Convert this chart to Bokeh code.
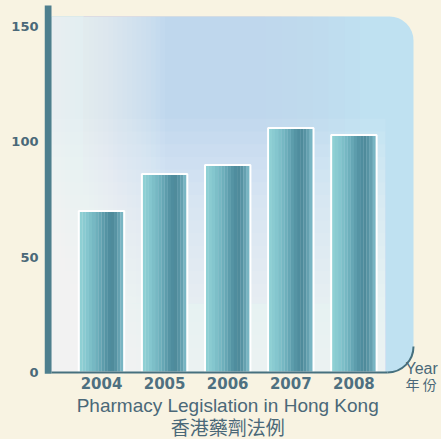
import numpy as np
from bokeh.plotting import figure
from bokeh.models import Range1d, BoxAnnotation, Label, FixedTicker, GlobalInlineStyleSheet
from bokeh.embed import file_html
from bokeh.resources import INLINE

# ---- data ----
years = [2004, 2005, 2006, 2007, 2008]
year_labels = ["2004", "2005", "2006", "2007", "2008"]
counts = [70, 86, 90, 106, 103]
y_ticks = [0, 50, 100, 150]
title_en = "Pharmacy Legislation in Hong Kong"
title_zh = "香港藥劑法例"
axis_en = "Year"
axis_zh = "年 份"

CREAM = "#f8f3e2"
TXT = "#4a6878"

W, H = 441, 439
FL = 44            # frame left (px)
SX = 63.1          # px per year
SY = 2.3067        # px per unit
BASE = 372         # baseline (px from top)
X0 = 2004 - (101 - FL) / SX
X1 = 2004 + (W - 101) / SX
Y0 = -(H - BASE) / SY
Y1 = BASE / SY
PR = 2004 + (413 - 101) / SX      # panel right edge
PL = X0 + 7 / SX                  # panel left edge (right side of axis bar)
PT = (BASE - 16) / SY             # panel top

p = figure(width=W, height=H, output_backend="svg", toolbar_location=None,
           x_range=Range1d(X0, X1), y_range=Range1d(Y0, Y1),
           min_border_left=FL, min_border_right=0, min_border_top=0, min_border_bottom=0)
p.stylesheets = [GlobalInlineStyleSheet(css="body{background-color:%s;}" % CREAM)]
p.background_fill_color = CREAM
p.border_fill_color = CREAM
p.outline_line_color = None
p.grid.visible = False

# ---- panel background (rounded) ----
p.add_layout(BoxAnnotation(left=PL, right=PR, bottom=0, top=PT, level="underlay",
                           fill_color="#bfe1f1", fill_alpha=1, line_color=None,
                           border_radius=dict(top_left=0, top_right=24, bottom_right=26, bottom_left=0)))
# lavender tint fading to the right (upper part)
for k in range(7):
    p.add_layout(BoxAnnotation(left=PL + 0.5, right=2006.6 + k * 0.25, bottom=30, top=PT, level="underlay",
                               fill_color="#cbc6f2", fill_alpha=0.055, line_color=None))
# whiter towards the left
for k in range(1, 25):
    p.add_layout(BoxAnnotation(left=PL, right=PL + k * 0.075, bottom=0, top=PT, level="underlay",
                               fill_color="white", fill_alpha=0.055, line_color=None))
# whiter towards the bottom
for k in range(1, 21):
    p.add_layout(BoxAnnotation(left=PL, right=2008.5, bottom=0, top=k * 5.5, level="underlay",
                               fill_color="white", fill_alpha=0.07, line_color=None))

# ---- cylindrical bars ----
shades = ["#8ed0d4", "#8acbd1", "#84c6ce", "#7dbfc8", "#76b8c3", "#6eb0bc", "#66a7b5",
          "#5d9dac", "#5594a4", "#4f8d9e", "#4f8b9b", "#5793a3", "#65a1b0", "#78b5c3"]
bw = 0.70
n = len(shades)
for i, c in enumerate(shades):
    off = -bw / 2 + (i + 0.5) * bw / n
    p.vbar(x=[y + off for y in years], width=bw / n * 1.05, bottom=0, top=counts,
           fill_color=c, line_color=None)
p.vbar(x=years, width=bw + 0.02, bottom=0, top=counts, fill_color=None,
       line_color="white", line_width=2)

# ---- axis bar and baseline with curved end ----
p.quad(left=[X0], right=[PL], bottom=[-0.5], top=[(BASE - 5) / SY],
       fill_color="#4e7f8e", line_color=None)
rx = 26 / SX
ry = 26 / SY
p.line(x=[PL, PR - rx], y=[0, 0], line_color="#46707e", line_width=2)
p.arc(x=[PR - rx], y=[ry], radius=26, radius_units="screen",
      start_angle=-np.pi / 2, end_angle=0, line_color="#46707e", line_width=2)

# ---- axes ----
p.yaxis.ticker = FixedTicker(ticks=y_ticks)
p.yaxis.axis_line_color = None
p.yaxis.major_tick_out = 0
p.yaxis.major_tick_in = 0
p.yaxis.minor_tick_line_color = None
p.yaxis.major_label_standoff = 6
p.yaxis.major_label_text_font = "DejaVu Sans"
p.yaxis.major_label_text_font_style = "bold"
p.yaxis.major_label_text_font_size = "13px"
p.yaxis.major_label_text_color = TXT

p.xaxis.ticker = FixedTicker(ticks=years)
p.xaxis.major_label_overrides = {y: l for y, l in zip(years, year_labels)}
p.xaxis.axis_line_color = None
p.xaxis.major_tick_out = 0
p.xaxis.major_tick_in = 0
p.xaxis.minor_tick_line_color = None
p.xaxis.major_label_standoff = -63
p.xaxis.major_label_text_font = "DejaVu Sans"
p.xaxis.major_label_text_font_style = "bold"
p.xaxis.major_label_text_font_size = "15px"
p.xaxis.major_label_text_color = "#4e7080"

# ---- texts ----
p.add_layout(Label(x=2006.0, y=(BASE - 405) / SY, text=title_en, text_align="center",
                   text_baseline="middle", text_font="Liberation Sans", text_font_size="19px",
                   text_color=TXT))
p.add_layout(Label(x=2006.0, y=(BASE - 426) / SY, text=title_zh, text_align="center",
                   text_baseline="middle", text_font="Noto Sans CJK TC", text_font_size="19px",
                   text_color=TXT))
p.add_layout(Label(x=2004 + (405 - 101) / SX, y=(BASE - 368) / SY, text=axis_en, text_align="left",
                   text_baseline="middle", text_font="Liberation Sans", text_font_size="16px",
                   text_color=TXT))
p.add_layout(Label(x=2004 + (405 - 101) / SX, y=(BASE - 383) / SY, text=axis_zh, text_align="left",
                   text_baseline="middle", text_font="Noto Sans CJK TC", text_font_size="14px",
                   text_color=TXT))

open("out.html", "w").write(file_html(p, INLINE))
